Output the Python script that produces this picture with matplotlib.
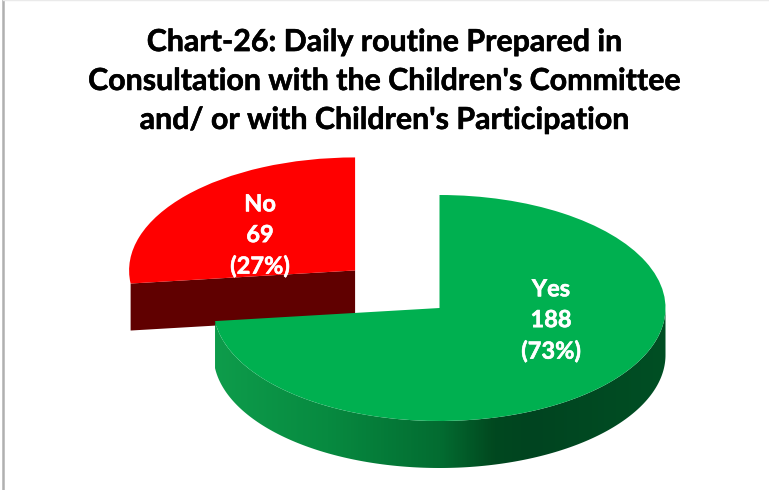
#!/usr/bin/env python3
# -*- coding: utf-8 -*-
"""Chart-26: exploded 3D-looking pie, drawn with ax.pie plus extruded sides."""
import numpy as np

import matplotlib
matplotlib.use("Agg")
import matplotlib.patheffects as pe
import matplotlib.pyplot as plt
from matplotlib.colors import LinearSegmentedColormap
from matplotlib.patches import Polygon

WIDTH, HEIGHT = 769, 490

TITLE = ("Chart-26: Daily routine Prepared in\n"
         "Consultation with the Children's Committee\n"
         "and/ or with Children's Participation")
categories = ["Yes", "No"]
values = [188, 69]
explode = [0.0, 0.5]
top_colors = ["#00B050", "#FF0000"]

# Pie size in pixels, one data unit is one radius on each axis
RX, RY = 226.0, 113.0
CENTER_PX = (439.5, 308.0)
DEPTH = 47.0 / RY

plt.rcParams.update({"font.family": ["Lato", "DejaVu Sans"]})


def px(x, y):
    """Convert image pixels to data units."""
    return x / RX, (HEIGHT - y) / RY


def arc(wedge, theta1, theta2, drop=0.0):
    """Points along the rim of a pie wedge."""
    t = np.radians(np.linspace(theta1, theta2, 200))
    return np.column_stack([wedge.center[0] + np.cos(t),
                            wedge.center[1] + np.sin(t) - drop])


fig = plt.figure(figsize=(WIDTH / 100, HEIGHT / 100), dpi=100)
ax = fig.add_axes([0, 0, 1, 1])

wedges, _ = ax.pie(values,
                   explode=explode,
                   colors=top_colors,
                   startangle=90,
                   counterclock=False,
                   center=px(*CENTER_PX),
                   radius=1.0,
                   frame=True)
ax.set_aspect("auto")
ax.set_xlim(0, WIDTH / RX)
ax.set_ylim(0, HEIGHT / RY)
ax.axis("off")

yes, no = wedges
yes.set_zorder(5)
no.set_zorder(2)

# The cut face of the red slice, below its front edge
edge = arc(no, no.theta2, no.theta2)[0]
apex = np.array(no.center)
cut = [edge, apex, apex - [0, DEPTH], edge - [0, DEPTH]]
ax.add_patch(Polygon(cut, closed=True, facecolor="#600000", edgecolor="none",
                     zorder=1))

# The rim of the green slice, shaded from left to right
rim_top = arc(yes, yes.theta1, 0.0)
rim_low = arc(yes, 0.0, yes.theta1, DEPTH)
rim = Polygon(np.vstack([rim_top, rim_low]), closed=True, facecolor="none",
              edgecolor="none", zorder=3)
ax.add_patch(rim)
shade = LinearSegmentedColormap.from_list(
    "rim", [(0.00, "#0E9C4B"),
            (0.25, "#078A40"),
            (0.50, "#036C31"),
            (0.62, "#01481F"),
            (0.70, "#004420"),
            (1.00, "#004F24")])
grad = ax.imshow(np.linspace(0, 1, 256)[None, :],
                 cmap=shade,
                 aspect="auto",
                 extent=[rim_top[:, 0].min(), rim_top[:, 0].max(),
                         rim_low[:, 1].min(), rim_top[:, 1].max()],
                 zorder=3)
grad.set_clip_path(rim)
ax.set_xlim(0, WIDTH / RX)
ax.set_ylim(0, HEIGHT / RY)

# Data labels
total = sum(values)
label_px = [(551, 320), (260, 235)]
for name, value, (x, y) in zip(categories, values, label_px):
    ax.text(*px(x, y),
            f"{name}\n{value}\n({value / total:.0%})",
            color="white",
            fontsize=17,
            fontweight="bold",
            ha="center",
            va="center",
            linespacing=1.41,
            zorder=6,
            path_effects=[pe.withStroke(linewidth=0.4, foreground="white")])

ax.text(*px(385, 81),
        TITLE,
        color="black",
        fontsize=21.85,
        fontweight="bold",
        ha="center",
        va="center",
        linespacing=1.476,
        zorder=6,
        path_effects=[pe.withStroke(linewidth=0.4, foreground="black")])

# Chart frame, only the left and top edges are in the crop
ax.plot(*zip(px(3, 0), px(3, HEIGHT)), color="#B0B0B0", lw=1.8, zorder=7)
ax.plot(*zip(px(3, 0.5), px(WIDTH, 0.5)), color="#EAEAEA", lw=1.0, zorder=7)

fig.savefig("out.png", dpi=100)
